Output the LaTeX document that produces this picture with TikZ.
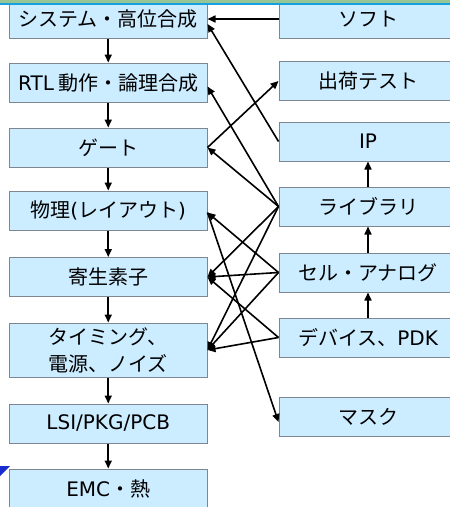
\documentclass[tikz,border=0pt]{standalone}
\usepackage{fontspec}
\setmainfont{Noto Sans CJK JP}
\newfontfamily\lat{DejaVu Sans}
\usetikzlibrary{arrows.meta}
\definecolor{boxfill}{RGB}{204,236,255}
\definecolor{boxline}{RGB}{125,135,145}
\definecolor{bandgreen}{RGB}{150,198,150}
\definecolor{bandblue}{RGB}{20,160,225}
\definecolor{tri}{RGB}{25,45,205}
\begin{document}
\begin{tikzpicture}[x=1pt,y=-1pt,
  box/.style={draw=boxline, line width=1pt, fill=boxfill, minimum height=39pt, inner sep=0pt, font=\fontsize{20}{27}\selectfont, align=center},
  lbox/.style={box, minimum width=197.5pt},
  rbox/.style={box, minimum width=178pt},
  arr/.style={-{Triangle[length=8pt,width=7pt]}, line width=1.6pt, black}]
\useasboundingbox (0,0) rectangle (450,507);
\clip (0,0) rectangle (450,507);
% left column
\node[lbox] (sys) at (108.25,19) {システム・高位合成};
\node[lbox] (rtl) at (108.25,82.5) {{\lat RTL} 動作・論理合成};
\node[lbox] (gate) at (108.25,147.5) {ゲート};
\node[lbox] (phys) at (108.25,210.5) {物理{\lat (}レイアウト{\lat )}};
\node[lbox] (para) at (108.25,277) {寄生素子};
\node[lbox, minimum height=54pt] (tim) at (108.25,350) {タイミング、\\電源、ノイズ};
\node[lbox] (lsi) at (108.25,423.5) {\lat LSI/PKG/PCB};
\node[lbox] (emc) at (108.25,488.5) {{\lat EMC}・熱};
% right column
\node[rbox] (soft) at (368,19) {ソフト};
\node[rbox] (test) at (368,81) {出荷テスト};
\node[rbox] (ip) at (368,141.5) {\lat IP};
\node[rbox] (lib) at (368,206.5) {ライブラリ};
\node[rbox] (cell) at (368,272.5) {セル・アナログ};
\node[rbox] (dev) at (368,337.5) {デバイス、{\lat PDK}};
\node[rbox] (mask) at (368,417) {マスク};
% left chain
\draw[arr] (sys) -- (rtl);
\draw[arr] (rtl) -- (gate);
\draw[arr] (gate) -- (phys);
\draw[arr] (phys) -- (para);
\draw[arr] (para) -- (tim);
\draw[arr] (tim) -- (lsi);
\draw[arr] (lsi) -- (emc);
% right chain
\draw[arr] (dev) -- (cell);
\draw[arr] (cell) -- (lib);
\draw[arr] (lib) -- (ip);
% cross connectors
\draw[arr] (soft.west) -- (sys.east);
\draw[arr] (ip.west) -- ([yshift=-5pt]sys.east);
\draw[arr] (lib.west) -- ([yshift=-4pt]rtl.east);
\draw[arr] (gate.east) -- (test.west);
\draw[arr] (lib.west) -- (gate.east);
\draw[arr] (lib.west) -- (para.east);
\draw[arr] (lib.west) -- (tim.east);
\draw[arr] (cell.west) -- ([yshift=-2pt]phys.east);
\draw[arr] (cell.west) -- (para.east);
\draw[arr] (cell.west) -- (tim.east);
\draw[arr] (dev.west) -- (para.east);
\draw[arr] (dev.west) -- (tim.east);
\draw[arr] ([yshift=-2pt]phys.east) -- ([yshift=-5pt]mask.west);
% decorations
\fill[tri] (0,466) -- (10,466) -- (0,476) -- cycle;
\fill[bandgreen] (0,0) rectangle (450,3);
\draw[bandblue, line width=1.5pt] (0,4) -- (450,4);
\end{tikzpicture}
\end{document}
